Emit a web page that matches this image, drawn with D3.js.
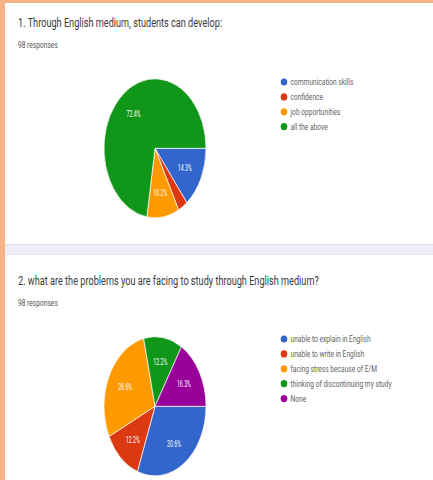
<!DOCTYPE html>
<html><head><meta charset="utf-8">
<script src="https://cdn.jsdelivr.net/npm/d3@7"></script>
<style>html,body{margin:0;padding:0;background:#fff;}svg{display:block;font-family:Roboto,sans-serif;}</style>
</head><body>
<script>
// Chart 1
const title1 = "1. Through English medium, students can develop:";
const responses1 = "98 responses";
const categories1 = ["communication skills", "confidence", "job opportunities", "all the above"];
const values1 = [14, 3, 10, 71];
// Chart 2
const title2 = "2. what are the problems you are facing to study through English medium?";
const responses2 = "98 responses";
const categories2 = ["unable to explain in English", "unable to write in English", "facing stress because of E/M", "thinking of discontinuing my study", "None"];
const values2 = [30, 12, 28, 12, 16];
const colors = ["#3366cc", "#dc3912", "#ff9900", "#109618", "#990099"];

const W = 433, H = 480;
const svg = d3.select("body").append("svg").attr("width", W).attr("height", H);

// frame
svg.append("rect").attr("x",0).attr("y",0).attr("width",W).attr("height",H).attr("fill","#fff");
svg.append("rect").attr("x",0).attr("y",0).attr("width",W).attr("height",3).attr("fill","#f7b285");
svg.append("rect").attr("x",0).attr("y",0).attr("width",5).attr("height",H).attr("fill","#f7b285");
// separator band
svg.append("rect").attr("x",5).attr("y",244).attr("width",W-5).attr("height",11).attr("fill","#eeedf8");
svg.append("line").attr("x1",5).attr("x2",W).attr("y1",244.5).attr("y2",244.5).attr("stroke","#dcdbe8");
svg.append("line").attr("x1",5).attr("x2",W).attr("y1",254.5).attr("y2",254.5).attr("stroke","#e2e1ee");

function sText(g, x, y, txt, size, sx, fill, anchor) {
  return g.append("text")
    .attr("transform", `translate(${x},${y}) scale(${sx},1)`)
    .attr("font-size", size).attr("fill", fill)
    .attr("text-anchor", anchor || "start")
    .text(txt);
}

function drawChart(top, title, resp, cats, vals, legendY0) {
  const g = svg.append("g");
  sText(g, 18, top + 24, title, 13, 0.705, "#3a3a3a");
  sText(g, 18, top + 44.5, resp, 9.5, 0.70, "#555");

  const cx = 155, cy = top + 145.3, ry = 69.5, rx = 51;
  const total = d3.sum(vals);
  const pie = d3.pie().sort(null).startAngle(Math.PI/2).endAngle(Math.PI/2 + 2*Math.PI);
  const arcs = pie(vals);
  const arc = d3.arc().innerRadius(0).outerRadius(ry);
  const lab = d3.arc().innerRadius(ry*0.65).outerRadius(ry*0.65);
  const pg = g.append("g").attr("transform", `translate(${cx},${cy}) scale(${rx/ry},1)`);
  pg.selectAll("path").data(arcs).join("path")
    .attr("d", arc).attr("fill", (d,i)=>colors[i])
    .attr("stroke", "#fff").attr("stroke-width", 0.8);
  arcs.forEach(d => {
    const p = d.value / total;
    if (p < 0.05) return;
    const [lx, ly] = lab.centroid(d);
    pg.append("text")
      .attr("transform", `translate(${lx},${ly + 3.2}) scale(0.75,1)`)
      .attr("text-anchor","middle").attr("font-size", 9.5).attr("fill","#fff")
      .text(d3.format(".1%")(p));
  });

  const lg = g.append("g");
  cats.forEach((c, i) => {
    const y = legendY0 + i * 14.9;
    lg.append("ellipse").attr("cx", 284).attr("cy", y).attr("rx", 3.3).attr("ry", 3.6).attr("fill", colors[i]);
    sText(lg, 290.5, y + 3, c, 9.5, 0.70, "#5f5f5f");
  });
}

drawChart(3, title1, responses1, categories1, values1, 82);
drawChart(261, title2, responses2, categories2, values2, 339);
</script>
</body></html>
